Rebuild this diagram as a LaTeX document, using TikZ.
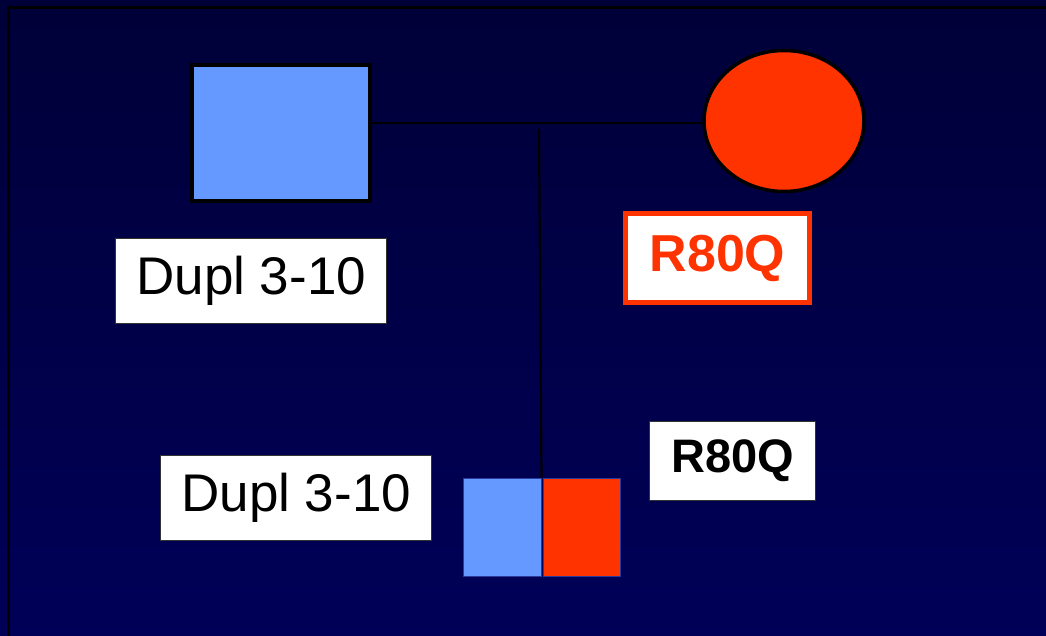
\documentclass[tikz,border=0pt]{standalone}
\usepackage{fontspec}
\usetikzlibrary{shapes.geometric}
\setmainfont{Liberation Sans}
\definecolor{navytop}{HTML}{000038}
\definecolor{navybot}{HTML}{000058}
\definecolor{pblue}{HTML}{6699FF}
\definecolor{pred}{HTML}{FF3300}
\definecolor{edgeblue}{HTML}{2A3A9A}
\begin{document}
\begin{tikzpicture}[x=1pt,y=-1pt,
  label box/.style={draw=black!80, line width=1.4pt, fill=white, inner sep=0pt, anchor=north west},
  male/.style={draw=black, line width=3.5pt, fill=pblue, inner sep=0pt},
  female/.style={draw=black, line width=3.5pt, fill=pred, ellipse, inner sep=0pt},
  link/.style={draw=black, line width=2.2pt}]
\useasboundingbox (0,0) rectangle (1046,636);
\shade[top color=navytop, bottom color=navybot] (0,0) rectangle (1046,636);
\draw[black, line width=3pt] (8,636) -- (8,7.5) -- (1046,7.5);
% father
\node[male, minimum width=178pt, minimum height=136pt] (father) at (281,133) {};
% mother
\node[female, minimum width=160pt, minimum height=141pt] (mother) at (784,121) {};
\draw[link] (father.east |- 0,123) -- (mother.west |- 0,123);
\coordinate (drop) at (539,129);
% child
\node[draw=edgeblue, line width=1pt, fill=pblue, minimum width=78pt, minimum height=98pt, inner sep=0pt] (childL) at (502,527) {};
\node[draw=edgeblue, line width=1pt, fill=pred, minimum width=77pt, minimum height=98pt, inner sep=0pt] (childR) at (581.5,527) {};
\draw[link] (drop) -- (childL.north east);
% labels
\node[label box, minimum width=271pt, minimum height=85pt] (lab1) at (115,238) {};
\node at (lab1.center) (lab1t) {\fontsize{53}{60}\selectfont Dupl 3-10};
\node[label box, minimum width=271pt, minimum height=85pt] (lab2) at (160,455) {};
\node at (lab2.center) (lab2t) {\fontsize{53}{60}\selectfont Dupl 3-10};
\node[draw=pred, line width=5pt, fill=white, inner sep=0pt, minimum width=184pt, minimum height=89pt] (lab3) at (717.5,258) {};
\node at (lab3.center) (lab3t) {\fontsize{52}{60}\selectfont\bfseries\color{pred} R80Q};
\node[label box, minimum width=166pt, minimum height=79pt] (lab4) at (649,421) {};
\node at (lab4.center) (lab4t) {\fontsize{47}{55}\selectfont\bfseries R80Q};
\end{tikzpicture}
\end{document}
